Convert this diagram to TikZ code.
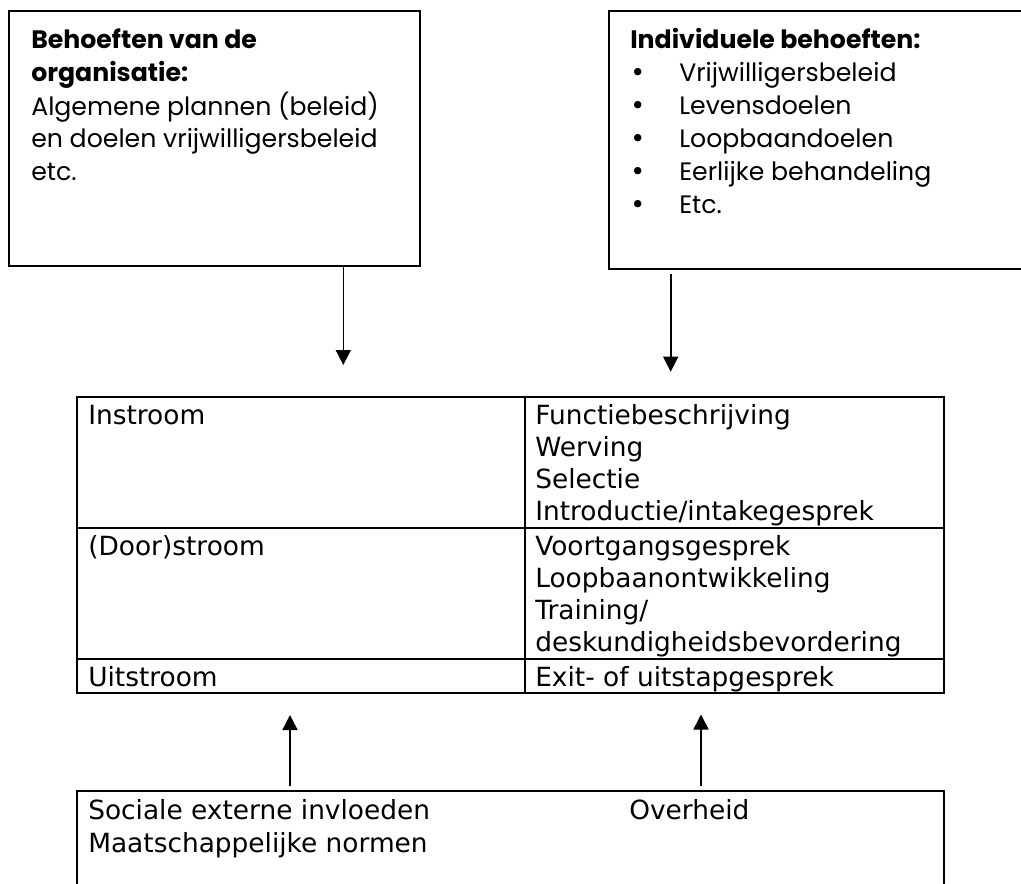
\documentclass[tikz,border=0pt]{standalone}
\usepackage{fontspec}
\usepackage{tikz}
\usetikzlibrary{positioning,arrows.meta,fit}
\newfontfamily\boxfont{Poppins}
\newfontfamily\tabfont{DejaVu Sans}
\tikzset{
  box/.style={draw,line width=1.5pt,inner sep=0pt},
  cell/.style={draw,line width=1.5pt,inner sep=0pt},
  arr/.style={line width=1.2pt,-{Triangle[width=11.25pt,length=11.25pt]}},
  tlab/.style={anchor=base west,inner sep=0pt,font=\boxfont\fontsize{18.9}{24.5}\selectfont},
  clab/.style={anchor=base west,inner sep=0pt,font=\tabfont\fontsize{19.8}{24.2}\selectfont}
}
\newcommand{\blt}{{\tabfont\symbol{"2022}}}
\begin{document}
\begin{tikzpicture}[x=0.75pt,y=-0.75pt]
  \useasboundingbox (0,0) rectangle (1021,884);
  % behoeften
  \node[box,fit={(9,11) (420,266)}] (org) {};
  \node[box,fit={(609,11) (1040,269)}] (ind) {};
  \node[tlab] (orgtxt) at (31,49) {\begin{tabular}[t]{@{}l@{}}\textbf{Behoeften van de}\\ \textbf{organisatie:}\\ Algemene plannen (beleid)\\ en doelen vrijwilligersbeleid\\ etc.\end{tabular}};
  \node[tlab,font=\boxfont\fontsize{18.9}{24.75}\selectfont] (indtxt) at (630,49) {\begin{tabular}[t]{@{}p{36.75pt}@{}l@{}}\multicolumn{2}{@{}l@{}}{\textbf{Individuele behoeften:}}\\ \blt & Vrijwilligersbeleid\\ \blt & Levensdoelen\\ \blt & Loopbaandoelen\\ \blt & Eerlijke behandeling\\ \blt & Etc.\end{tabular}};
  % stromen
  \node[cell,fit={(77.3,396.7) (525,527.7)}] (in1) {};
  \node[cell,fit={(525,396.7) (944.3,527.7)}] (in2) {};
  \node[cell,fit={(77.3,527.7) (525,658.7)}] (door1) {};
  \node[cell,fit={(525,527.7) (944.3,658.7)}] (door2) {};
  \node[cell,fit={(77.3,658.7) (525,692.7)}] (uit1) {};
  \node[cell,fit={(525,658.7) (944.3,692.7)}] (uit2) {};
  \node[clab] (in1txt) at (88,424) {Instroom};
  \node[clab] (in2txt) at (535,424) {\begin{tabular}[t]{@{}l@{}}Functiebeschrijving\\ Werving\\ Selectie\\ Introductie/intakegesprek\end{tabular}};
  \node[clab] (door1txt) at (88,555) {(Door)stroom};
  \node[clab] (door2txt) at (535,555) {\begin{tabular}[t]{@{}l@{}}Voortgangsgesprek\\ Loopbaanontwikkeling\\ Training/\\ deskundigheidsbevordering\end{tabular}};
  \node[clab] (uit1txt) at (88,686) {Uitstroom};
  \node[clab] (uit2txt) at (535,686) {Exit- of uitstapgesprek};
  % invloeden
  \node[box,fit={(77.3,791) (944.3,910)}] (ext) {};
  \node[clab,font=\tabfont\fontsize{19.8}{24.75}\selectfont] (soctxt) at (88,819) {\begin{tabular}[t]{@{}l@{}}Sociale externe invloeden\\ Maatschappelijke normen\end{tabular}};
  \node[clab] (ovtxt) at (629,819) {Overheid};
  % pijlen
  \coordinate (orgtip) at (343.3,365); \coordinate (indtip) at (670.7,371.7);
  \coordinate (soctip) at (290,715); \coordinate (ovtip) at (701,714.5);
  \draw[arr] (org.south -| orgtip) -- (orgtip);
  \draw[arr,shorten <=3pt] (ind.south -| indtip) -- (indtip);
  \draw[arr,shorten <=3pt] (ext.north -| soctip) -- (soctip);
  \draw[arr,shorten <=3pt] (ext.north -| ovtip) -- (ovtip);
\end{tikzpicture}
\end{document}
